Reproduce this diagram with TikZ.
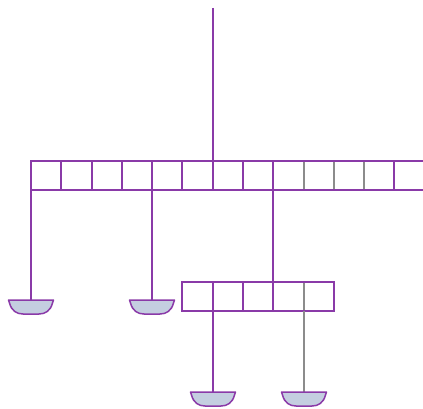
\documentclass[tikz,border=0pt]{standalone}
\begin{document}
\begin{tikzpicture}[x=1pt,y=-1pt,
  pline/.style={draw=linepurple,line width=2pt},
  gline/.style={draw=linegray,line width=2pt},
  bowlstyle/.style={fill=bowlfill,draw=linepurple,line width=1.5pt,line join=round}]
\definecolor{linepurple}{RGB}{138,58,168}
\definecolor{linegray}{RGB}{140,140,140}
\definecolor{bowlfill}{RGB}{196,206,224}
\useasboundingbox (0,0) rectangle (423,409);
\clip (0,0) rectangle (423,409);
\def\bowl(#1,#2){%
  \path[bowlstyle] (#1,#2) ++(-22.5,0) -- ++(45,0) -- ++(-1,3)
    .. controls ++(-2,8) and ++(6,0) .. ++(-13.5,11) -- ++(-16,0)
    .. controls ++(-6,0) and ++(2,8) .. ++(-13.5,-11) -- cycle;}
% coordinates
\coordinate (top) at (213,8);
\coordinate (arrTL) at (31,161);
\coordinate (arrBR) at (425,190);
\coordinate (subTL) at (182,282);
\coordinate (subBR) at (334,311);
\coordinate (b1) at (31,300);
\coordinate (b2) at (152,300);
\coordinate (b3) at (213,392);
\coordinate (b4) at (304,392);
% top hanger
\draw[pline] (top) -- (213,161);
% top array
\foreach \xx in {61,92,122,152,182,213,243,273,394}{
  \draw[pline] (\xx,161) -- (\xx,190);}
\foreach \xx in {304,334,364}{
  \draw[gline] (\xx,161) -- (\xx,190);}
\draw[pline] (arrTL) rectangle (arrBR);
% sub array
\foreach \xx in {213,243,273}{
  \draw[pline] (\xx,282) -- (\xx,311);}
\draw[gline] (304,282) -- (304,311);
\draw[pline] (subTL) rectangle (subBR);
% strings
\draw[pline] (31,190) -- (b1);
\draw[pline] (152,190) -- (b2);
\draw[pline] (273,190) -- (273,282);
\draw[pline] (213,311) -- (b3);
\draw[gline] (304,311) -- (b4);
% bowls
\bowl(31,300)
\bowl(152,300)
\bowl(213,392)
\bowl(304,392)
\end{tikzpicture}
\end{document}
